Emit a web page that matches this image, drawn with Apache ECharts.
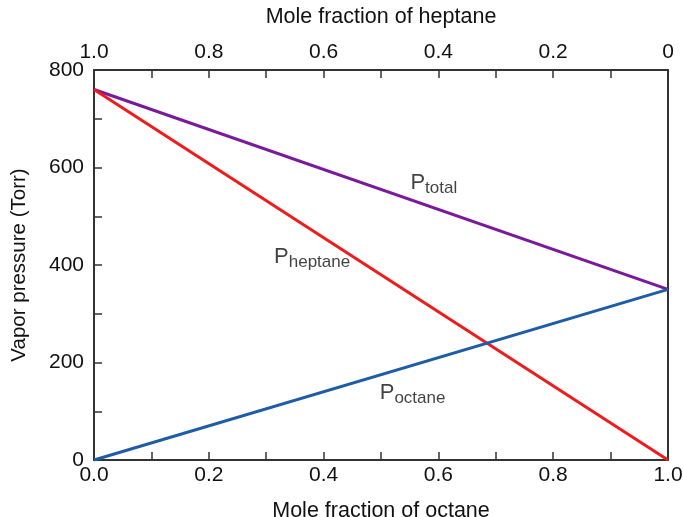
<!DOCTYPE html>
<html><head><meta charset="utf-8">
<script src="https://cdn.jsdelivr.net/npm/echarts@6/dist/echarts.min.js"></script>
<style>html,body{margin:0;padding:0;background:#fff}#c{width:683px;height:517px}</style>
</head><body><div id="c"></div>
<script>
// Mole fraction of octane (bottom axis)
const xOctane = [0.0, 1.0];
const pHeptane = [760, 0];
const pOctane = [0, 350];
const pTotal = [760, 350];
// annotation positions (data space)
const labelTotal = [0.592, 568];
const labelHeptane = [0.38, 416];
const labelOctane = [0.555, 137];

const FONT = 'Liberation Sans';
const axisColor = '#333';
const textColor = '#111';

function pairs(xs, ys){ return xs.map((x,i)=>[x, ys[i]]); }
function tenthFmt(v){
  const k = Math.round(v*10);
  if (k % 2 !== 0) return '';
  return (k/10).toFixed(1);
}
const chart = echarts.init(document.getElementById('c'));
const rich = {
  p:{fontFamily:FONT,fontSize:22,color:textColor},
  s:{fontFamily:FONT,fontSize:17,color:textColor,padding:[10,0,0,0]}
};
function annot(name, sub, pos){
  return {
    type:'scatter', xAxisIndex:0, yAxisIndex:0, symbolSize:0, silent:true,
    data:[pos],
    label:{show:true, position:'inside', formatter:'{p|'+name+'}{s|'+sub+'}', rich:rich}
  };
}
chart.setOption({
  animation:false,
  backgroundColor:'#fff',
  grid:{left:94, right:15, top:70, bottom:57, outerBoundsMode:'none', containLabel:false},
  xAxis:[
    {type:'value', min:0, max:1, interval:0.1, position:'bottom',
     name:'Mole fraction of octane', nameLocation:'middle', nameGap:40,
     nameTextStyle:{fontFamily:FONT,fontSize:21.5,color:textColor},
     axisLine:{onZero:false,lineStyle:{color:axisColor,width:2}},
     axisTick:{inside:true,length:8,lineStyle:{color:axisColor,width:1.5}},
     axisLabel:{formatter:tenthFmt,fontFamily:FONT,fontSize:21,color:textColor,margin:5,showMinLabel:true,showMaxLabel:true},
     splitLine:{show:false}},
    {type:'value', min:0, max:1, interval:0.1, position:'top', inverse:true,
     name:'Mole fraction of heptane', nameLocation:'middle', nameGap:42,
     nameTextStyle:{fontFamily:FONT,fontSize:21.5,color:textColor},
     axisLine:{onZero:false,lineStyle:{color:axisColor,width:2}},
     axisTick:{inside:true,length:8,lineStyle:{color:axisColor,width:1.5}},
     axisLabel:{formatter:function(v){ if (Math.round(v*10)===0) return '0'; return tenthFmt(v);},fontFamily:FONT,fontSize:21,color:textColor,margin:7,showMinLabel:true,showMaxLabel:true},
     splitLine:{show:false}},
  ],
  yAxis:[
    {type:'value', min:0, max:800, interval:100, position:'left',
     name:'Vapor pressure (Torr)', nameLocation:'middle', nameGap:64, nameRotate:90,
     nameTextStyle:{fontFamily:FONT,fontSize:20.5,color:textColor},
     axisLine:{show:true,onZero:false,lineStyle:{color:axisColor,width:2}},
     axisTick:{inside:true,length:8,lineStyle:{color:axisColor,width:1.5}},
     axisLabel:{formatter:function(v){return (Math.round(v)%200===0)?String(Math.round(v)):'';},fontFamily:FONT,fontSize:21,color:textColor,margin:10},
     splitLine:{show:false}},
    {type:'value', min:0, max:800, interval:100, position:'right',
     axisLine:{show:true,onZero:false,lineStyle:{color:axisColor,width:2}},
     axisTick:{show:false}, axisLabel:{show:false}, splitLine:{show:false}}
  ],
  series:[
    {type:'line', name:'Ptotal', data:pairs(xOctane,pTotal), symbol:'none', lineStyle:{color:'#7a1a9a',width:3}},
    {type:'line', name:'Pheptane', data:pairs(xOctane,pHeptane), symbol:'none', lineStyle:{color:'#ee1c1c',width:3}},
    {type:'line', name:'Poctane', data:pairs(xOctane,pOctane), symbol:'none', lineStyle:{color:'#1f5ca8',width:3}},
    annot('P','total',labelTotal),
    annot('P','heptane',labelHeptane),
    annot('P','octane',labelOctane)
  ]
});
</script></body></html>
